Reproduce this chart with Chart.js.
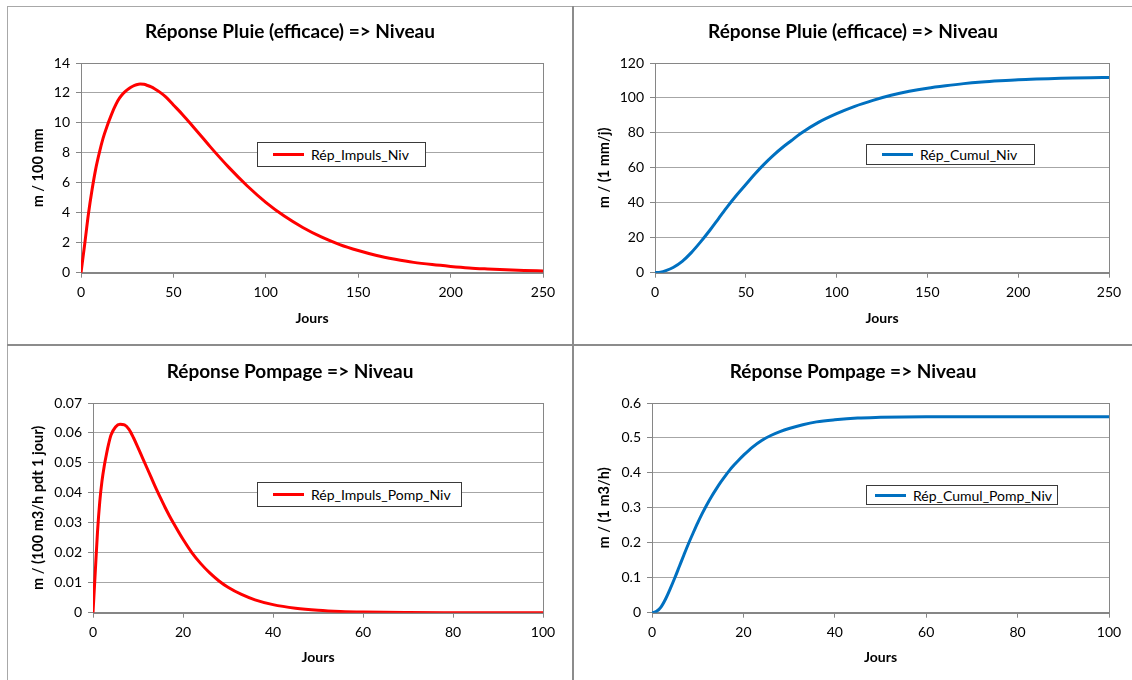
<!DOCTYPE html>
<html>
<head>
<meta charset="utf-8">
<script src="https://cdn.jsdelivr.net/npm/chart.js@4.4.1/dist/chart.umd.min.js"></script>
<style>
  html, body { margin: 0; padding: 0; background: #fff; }
  body { width: 1132px; height: 680px; position: relative; overflow: hidden; font-family: Lato, "Open Sans", sans-serif; }
  .panel { position: absolute; }
  .line { position: absolute; }
  .legend { position: absolute; box-sizing: border-box; border: 1px solid #3a3a3a; background: #fff;
            display: flex; align-items: center; font-size: 14px; color: #000; white-space: nowrap; }
  .legend .sample { width: 31px; height: 3px; margin-left: 15px; margin-right: 7px; }
</style>
</head>
<body>
<div class="line" style="left:7px;top:6px;width:1px;height:674px;background:#a8a8a8"></div>
<div class="line" style="left:7px;top:6px;width:1125px;height:1px;background:#a8a8a8"></div>
<div class="line" style="left:572px;top:6px;width:2px;height:674px;background:#8c8c8c"></div>
<div class="line" style="left:7px;top:344px;width:1125px;height:2px;background:#8c8c8c"></div>

<div class="panel" style="left:8px;top:7px"><canvas id="c1" width="564" height="337"></canvas></div>
<div class="panel" style="left:574px;top:7px"><canvas id="c2" width="558" height="337"></canvas></div>
<div class="panel" style="left:8px;top:346px"><canvas id="c3" width="564" height="334"></canvas></div>
<div class="panel" style="left:574px;top:346px"><canvas id="c4" width="558" height="334"></canvas></div>

<div class="legend" style="left:257px;top:142px;width:169px;height:25px"><span class="sample" style="background:#ff0000"></span><span>Rép_Impuls_Niv</span></div>
<div class="legend" style="left:866px;top:144px;width:169px;height:21px"><span class="sample" style="background:#0070c0"></span><span>Rép_Cumul_Niv</span></div>
<div class="legend" style="left:257px;top:482px;width:205px;height:25px"><span class="sample" style="background:#ff0000"></span><span>Rép_Impuls_Pomp_Niv</span></div>
<div class="legend" style="left:866px;top:485px;width:192px;height:20px"><span class="sample" style="background:#0070c0;margin-left:8px"></span><span>Rép_Cumul_Pomp_Niv</span></div>

<script>
// ---- Data ----
const pluieImpulsDays = [0,2,4,6,8,10,12,14,16,18,20,22,24,26,28,30,32,34,36,38,40,43,46,50,55,60,65,70,80,90,100,110,120,130,140,150,160,170,180,190,200,210,220,230,240,250];
const pluieImpulsVals = [0,1.9,3.9,5.55,6.95,8.05,9.0,9.75,10.4,11.0,11.5,11.85,12.1,12.3,12.45,12.55,12.6,12.58,12.5,12.4,12.26,12.02,11.72,11.2,10.55,9.85,9.13,8.4,7.03,5.79,4.7,3.78,3.02,2.39,1.88,1.48,1.15,0.9,0.69,0.54,0.42,0.32,0.25,0.19,0.15,0.12];

const pluieCumulDays = [0,3,6,10,15,20,25,30,35,40,45,50,55,60,65,70,75,80,90,100,110,120,130,140,150,160,170,180,190,200,210,220,230,240,250];
const pluieCumulVals = [0,0.3,1.2,3,6.5,11.5,17.5,24,31,38,44.5,50.5,56.5,62,67,71.5,75.5,79.5,86,91,95.2,98.6,101.5,103.8,105.6,107,108.2,109.1,109.8,110.4,110.8,111.1,111.4,111.6,111.7];

const pompImpulsDays = [0,0.5,1,1.5,2,2.5,3,3.5,4,5,6,7,8,9,10,11,12,13,14,15,16,17,18,20,22,24,26,28,30,33,36,40,45,50,55,60,70,80,90,100];
const pompImpulsVals = [0,0.0135,0.027,0.037,0.044,0.049,0.053,0.0565,0.0593,0.062,0.0629,0.0627,0.0612,0.0584,0.0551,0.0517,0.0483,0.0449,0.0415,0.0383,0.0352,0.0323,0.0296,0.0245,0.02,0.0163,0.0132,0.0106,0.0085,0.0061,0.0043,0.0027,0.0015,0.0008,0.0004,0.0002,0.00005,0.00001,0,0];

const pompCumulDays = [0,1,2,3,4,5,6,7,8,9,10,11,12,13,14,15,16,17,18,19,20,22,24,26,28,30,33,36,40,45,50,55,60,70,80,100];
const pompCumulVals = [0,0.004,0.017,0.04,0.069,0.1,0.133,0.166,0.198,0.228,0.257,0.284,0.309,0.332,0.353,0.373,0.391,0.408,0.423,0.437,0.45,0.474,0.493,0.507,0.518,0.527,0.538,0.546,0.552,0.557,0.559,0.5602,0.5607,0.561,0.561,0.561];

const xTicksPluie = {min: 0, max: 250, step: 50};
const xTicksPomp = {min: 0, max: 100, step: 20};

// ---- Helpers ----
const FONT = 'Lato, "Open Sans", sans-serif';
const framePlugin = {
  id: 'frame',
  beforeDatasetsDraw(chart) {
    const a = chart.chartArea, ctx = chart.ctx;
    ctx.save();
    ctx.strokeStyle = '#868686';
    ctx.lineWidth = 1;
    ctx.strokeRect(Math.round(a.left) + 0.5, Math.round(a.top) + 0.5, Math.round(a.right - a.left), Math.round(a.bottom - a.top));
    ctx.restore();
  }
};

function fmt(v) { return String(parseFloat(Number(v).toFixed(4))); }

function makeChart(id, cfg) {
  const pts = cfg.days.map((d, i) => ({x: d, y: cfg.vals[i]}));
  return new Chart(document.getElementById(id), {
    type: 'line',
    data: { datasets: [{
      label: cfg.label, data: pts, borderColor: cfg.color, borderWidth: 3,
      pointRadius: 0, fill: false, cubicInterpolationMode: 'monotone', tension: 0.4
    }]},
    options: {
      responsive: false, animation: false, devicePixelRatio: 1,
      layout: { padding: 0 },
      plugins: {
        legend: { display: false },
        tooltip: { enabled: false },
        title: { display: true, text: cfg.title, color: '#000',
                 font: { family: FONT, size: 19, weight: 'bold' },
                 padding: { top: cfg.titleTop, bottom: cfg.titleBottom } }
      },
      scales: {
        x: {
          type: 'linear', min: cfg.xt.min, max: cfg.xt.max,
          ticks: { stepSize: cfg.xt.step, color: '#000', padding: 6, font: { family: FONT, size: 14 }, maxRotation: 0, callback: fmt },
          grid: { drawOnChartArea: false, drawTicks: true, tickLength: 5, tickColor: '#868686' },
          border: { display: true, color: '#868686' },
          title: { display: true, text: 'Jours', color: '#000', font: { family: FONT, size: 14, weight: 'bold' },
                   padding: { top: 0, bottom: cfg.xTitleBottom } },
          afterFit(s) { s.height = cfg.xHeight; s.paddingRight = cfg.padRight; }
        },
        y: {
          type: 'linear', min: cfg.yMin, max: cfg.yMax,
          ticks: { stepSize: cfg.yStep, color: '#000', padding: 6, font: { family: FONT, size: 14 }, callback: fmt },
          grid: { color: '#a6a6a6', lineWidth: 1, drawTicks: true, tickLength: 5, tickColor: '#868686' },
          border: { display: true, color: '#868686' },
          title: { display: true, text: cfg.yTitle, color: '#000', font: { family: FONT, size: 14.5, weight: 'bold' },
                   padding: { top: cfg.yTitleTop, bottom: 0 } },
          afterFit(s) { s.width = cfg.yWidth; }
        }
      }
    },
    plugins: [framePlugin]
  });
}

makeChart('c1', { days: pluieImpulsDays, vals: pluieImpulsVals, label: 'Rép_Impuls_Niv', color: '#ff0000',
  title: 'Réponse Pluie (efficace) => Niveau', titleTop: 13, titleBottom: 20.2,
  xt: xTicksPluie, yMin: 0, yMax: 14, yStep: 2, yTitle: 'm / 100 mm',
  xHeight: 71.3, padRight: 29, yWidth: 73, yTitleTop: 22, xTitleBottom: 17 });

makeChart('c2', { days: pluieCumulDays, vals: pluieCumulVals, label: 'Rép_Cumul_Niv', color: '#0070c0',
  title: 'Réponse Pluie (efficace) => Niveau', titleTop: 13, titleBottom: 20.2,
  xt: xTicksPluie, yMin: 0, yMax: 120, yStep: 20, yTitle: 'm / (1 mm/j)',
  xHeight: 71.3, padRight: 23, yWidth: 81, yTitleTop: 22, xTitleBottom: 17 });

makeChart('c3', { days: pompImpulsDays, vals: pompImpulsVals, label: 'Rép_Impuls_Pomp_Niv', color: '#ff0000',
  title: 'Réponse Pompage => Niveau', titleTop: 14, titleBottom: 20.2,
  xt: xTicksPomp, yMin: 0, yMax: 0.07, yStep: 0.01, yTitle: 'm / (100 m3/h pdt 1 jour)',
  xHeight: 67.3, padRight: 29, yWidth: 85, yTitleTop: 22, xTitleBottom: 14 });

makeChart('c4', { days: pompCumulDays, vals: pompCumulVals, label: 'Rép_Cumul_Pomp_Niv', color: '#0070c0',
  title: 'Réponse Pompage => Niveau', titleTop: 14, titleBottom: 20.2,
  xt: xTicksPomp, yMin: 0, yMax: 0.6, yStep: 0.1, yTitle: 'm / (1 m3/h)',
  xHeight: 67.3, padRight: 23, yWidth: 78, yTitleTop: 22, xTitleBottom: 14 });
</script>
</body>
</html>
